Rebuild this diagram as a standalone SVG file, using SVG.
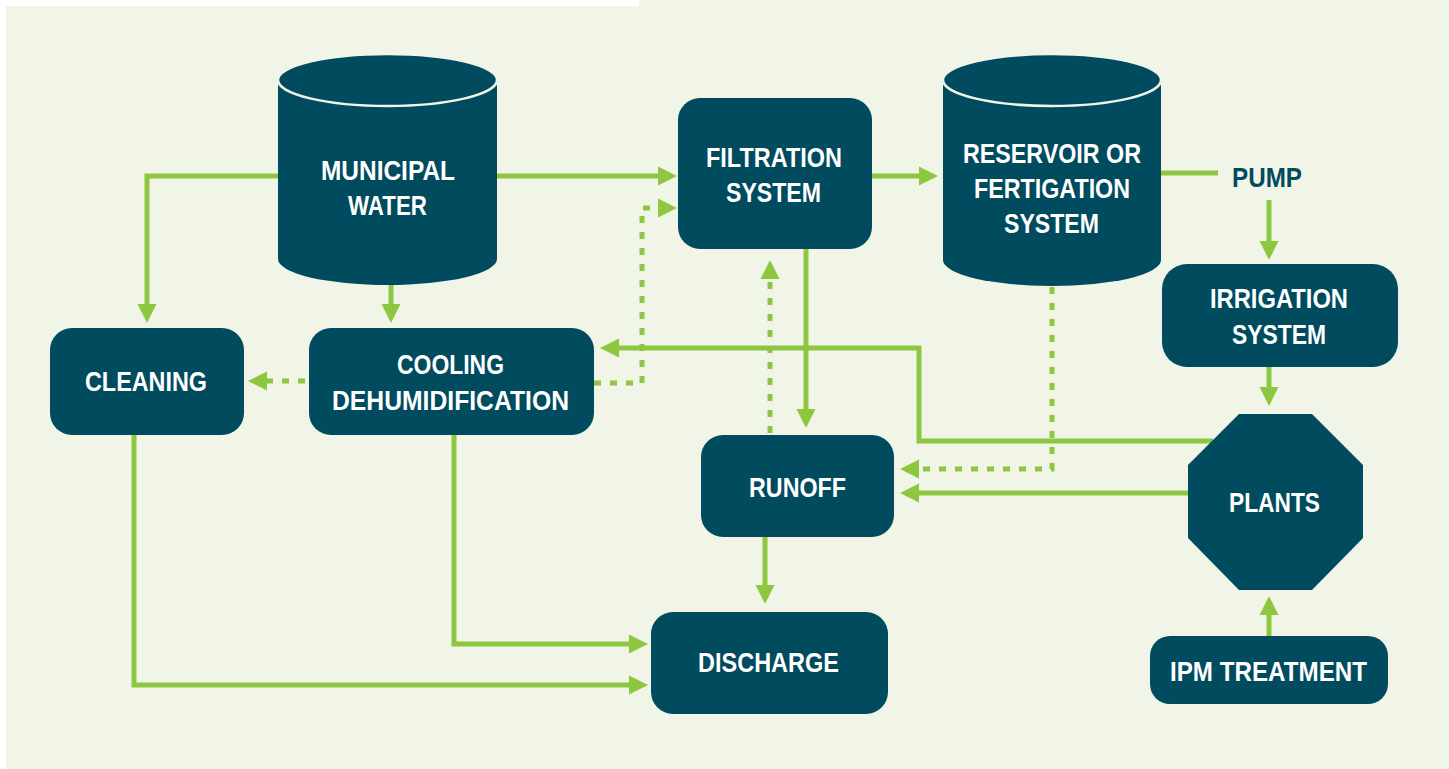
<svg xmlns="http://www.w3.org/2000/svg" width="1449" height="769" viewBox="0 0 1449 769">
<style>
.bg{fill:#F1F5E8}
.node{fill:#004B5E}
.rim{fill:none;stroke:#F1F5E8;stroke-width:2.5}
.t{font-family:"Liberation Sans",Arial,sans-serif;font-weight:bold;font-size:28px;fill:#FFFFFF}
.tp{fill:#004B5E}
.c{fill:none;stroke:#8DC63F;stroke-width:5;stroke-linejoin:miter}
.d{stroke-dasharray:7 9}
</style>
<defs>
<marker id="ah" markerUnits="userSpaceOnUse" markerWidth="20" markerHeight="20" viewBox="0 0 20 20" refX="1" refY="10" orient="auto">
<path d="M0,0.5 L19,10 L0,19.5 Z" fill="#8DC63F"/>
</marker>
</defs>
<rect x="0" y="0" width="1449" height="769" fill="#FFFFFF"/>
<path class="bg" d="M6,6 H639 V0 H1449 V769 H6 Z"/>

<g id="connectors">
<path class="c" d="M497,176 H659" marker-end="url(#ah)"/>
<path class="c" d="M278,176 H147 V305" marker-end="url(#ah)"/>
<path class="c" d="M391,284 V305" marker-end="url(#ah)"/>
<path class="c d" d="M305,381 H266" marker-end="url(#ah)"/>
<path class="c d" d="M594,383 H642 V208 H659" marker-end="url(#ah)"/>
<path class="c" d="M1213,441 H919 V348 H618" marker-end="url(#ah)"/>
<path class="c" d="M806,249 V410" marker-end="url(#ah)"/>
<path class="c d" d="M770,433 V278" marker-end="url(#ah)"/>
<path class="c d" d="M1052,287 V469 H918" marker-end="url(#ah)"/>
<path class="c" d="M1188,493 H918" marker-end="url(#ah)"/>
<path class="c" d="M872,176 H920" marker-end="url(#ah)"/>
<path class="c" d="M1161,173 H1218"/>
<path class="c" d="M1269,200 V242" marker-end="url(#ah)"/>
<path class="c" d="M1269,367 V388" marker-end="url(#ah)"/>
<path class="c" d="M1269,636 V614" marker-end="url(#ah)"/>
<path class="c" d="M765,537 V586" marker-end="url(#ah)"/>
<path class="c" d="M454,435 V644 H630" marker-end="url(#ah)"/>
<path class="c" d="M134,435 V685 H630" marker-end="url(#ah)"/>
</g>

<g id="municipal-water">
<path class="node" d="M278,80 A109.5,26 0 0 1 497,80 V259 A109.5,26 0 0 1 278,259 Z"/>
<ellipse class="rim" cx="387.5" cy="80" rx="109.5" ry="26"/>
<text class="t" x="321" y="180" textLength="134" lengthAdjust="spacingAndGlyphs">MUNICIPAL</text>
<text class="t" x="348" y="215" textLength="79" lengthAdjust="spacingAndGlyphs">WATER</text>
</g>

<g id="filtration-system">
<rect class="node" x="678" y="98" width="194" height="151" rx="22"/>
<text class="t" x="706" y="167" textLength="136" lengthAdjust="spacingAndGlyphs">FILTRATION</text>
<text class="t" x="726" y="202" textLength="95" lengthAdjust="spacingAndGlyphs">SYSTEM</text>
</g>

<g id="reservoir">
<path class="node" d="M943,80 A109,26 0 0 1 1161,80 V260 A109,26 0 0 1 943,260 Z"/>
<ellipse class="rim" cx="1052" cy="80" rx="109" ry="26"/>
<text class="t" x="963" y="163" textLength="178" lengthAdjust="spacingAndGlyphs">RESERVOIR OR</text>
<text class="t" x="974" y="198" textLength="156" lengthAdjust="spacingAndGlyphs">FERTIGATION</text>
<text class="t" x="1004" y="233" textLength="95" lengthAdjust="spacingAndGlyphs">SYSTEM</text>
</g>

<g id="pump">
<text class="t tp" x="1232" y="187" textLength="70" lengthAdjust="spacingAndGlyphs">PUMP</text>
</g>

<g id="irrigation-system">
<rect class="node" x="1162" y="264" width="236" height="103" rx="25"/>
<text class="t" x="1210" y="308" textLength="138" lengthAdjust="spacingAndGlyphs">IRRIGATION</text>
<text class="t" x="1232" y="344" textLength="94" lengthAdjust="spacingAndGlyphs">SYSTEM</text>
</g>

<g id="plants">
<polygon class="node" points="1239,414 1312,414 1363,465 1363,538 1312,590 1239,590 1188,538 1188,465"/>
<text class="t" x="1229" y="512" textLength="91" lengthAdjust="spacingAndGlyphs">PLANTS</text>
</g>

<g id="ipm-treatment">
<rect class="node" x="1150" y="636" width="238" height="68" rx="20"/>
<text class="t" x="1170" y="681" textLength="197" lengthAdjust="spacingAndGlyphs">IPM TREATMENT</text>
</g>

<g id="cleaning">
<rect class="node" x="50" y="328" width="194" height="107" rx="22"/>
<text class="t" x="85" y="391" textLength="122" lengthAdjust="spacingAndGlyphs">CLEANING</text>
</g>

<g id="cooling-dehumidification">
<rect class="node" x="309" y="328" width="285" height="107" rx="22"/>
<text class="t" x="397" y="374" textLength="107" lengthAdjust="spacingAndGlyphs">COOLING</text>
<text class="t" x="332" y="410" textLength="237" lengthAdjust="spacingAndGlyphs">DEHUMIDIFICATION</text>
</g>

<g id="runoff">
<rect class="node" x="701" y="435" width="193" height="102" rx="22"/>
<text class="t" x="749" y="497" textLength="97" lengthAdjust="spacingAndGlyphs">RUNOFF</text>
</g>

<g id="discharge">
<rect class="node" x="651" y="612" width="237" height="102" rx="22"/>
<text class="t" x="698" y="672" textLength="141" lengthAdjust="spacingAndGlyphs">DISCHARGE</text>
</g>
</svg>
